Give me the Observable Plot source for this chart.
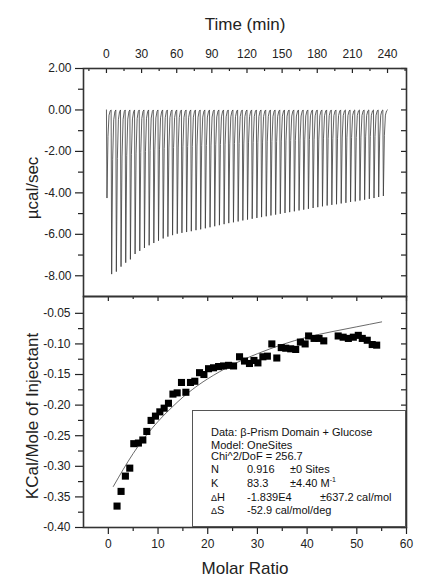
<!DOCTYPE html>
<html><head><meta charset="utf-8">
<script src="https://cdn.jsdelivr.net/npm/d3@7"></script>
<script src="https://cdn.jsdelivr.net/npm/@observablehq/plot@0.6"></script>
<style>
body{margin:0;background:#fff;}
#chart{position:relative;width:422px;height:580px;font-family:"Liberation Sans",Arial,sans-serif;}
#chart svg{position:absolute;left:0;overflow:visible;background:transparent;}
.title{position:absolute;white-space:nowrap;font-size:17px;color:#222;line-height:20px;transform:translate(-50%,-50%);}
.title.rot{transform:translate(-50%,-50%) rotate(-90deg);}
.legend{position:absolute;left:192px;top:410px;width:214px;height:117px;border:1px solid #555;box-sizing:border-box;background:#fff;font-size:11px;color:#111;}
.legend div{position:absolute;white-space:nowrap;line-height:13px;}
.legend sup{font-size:7px;vertical-align:5px;line-height:0;}
.legend .d{font-size:9px;}
</style></head><body><div id="chart"></div>
<script>
// ---- data ----
const injectionTimes = [0,4,8,12,16,20,24,28,32,36,40,44,48,52,56,60,64,68,72,76,80,84,88,92,96,100,104,108,112,116,120,124,128,132,136,140,144,148,152,156,160,164,168,172,176,180,184,188,192,196,200,204,208,212,216,220,224,228,232,236];
const peakHeights = [-4.25,-7.92,-7.80,-7.56,-7.37,-7.21,-6.95,-6.80,-6.66,-6.53,-6.42,-6.31,-6.20,-6.11,-6.04,-5.97,-5.93,-5.89,-5.85,-5.80,-5.76,-5.71,-5.66,-5.61,-5.56,-5.51,-5.46,-5.42,-5.38,-5.33,-5.29,-5.25,-5.21,-5.17,-5.13,-5.09,-5.05,-5.01,-4.97,-4.93,-4.89,-4.85,-4.81,-4.77,-4.73,-4.69,-4.65,-4.61,-4.58,-4.55,-4.51,-4.48,-4.44,-4.41,-4.37,-4.33,-4.29,-4.25,-4.20,-4.15];
const molarRatio = [1.75,2.56,3.43,4.31,5.12,6.05,6.94,7.74,8.6,9.48,10.36,11.23,12.1,13.0,13.85,14.72,15.6,16.53,17.4,18.35,19.23,20.16,21.17,22.18,23.19,24.19,25.2,26.4,27.4,28.4,29.3,30.1,31.1,32.0,32.9,33.9,34.8,35.7,36.7,37.7,38.65,39.6,40.3,41.4,42.4,43.35,46.25,47.25,48.3,49.3,50.3,51.1,52.1,53.1,54.0];
const heatPerInjectant = [-0.365,-0.341,-0.316,-0.303,-0.263,-0.262,-0.257,-0.243,-0.225,-0.218,-0.211,-0.205,-0.197,-0.182,-0.180,-0.163,-0.179,-0.163,-0.161,-0.147,-0.150,-0.1405,-0.139,-0.137,-0.136,-0.135,-0.136,-0.121,-0.128,-0.132,-0.127,-0.131,-0.121,-0.120,-0.100,-0.123,-0.106,-0.107,-0.108,-0.109,-0.097,-0.100,-0.087,-0.091,-0.091,-0.095,-0.087,-0.089,-0.091,-0.089,-0.086,-0.091,-0.094,-0.101,-0.102];
const fitMolarRatio = [1,3,5,7,9,11,13,15,17,20,25,30,35,40,45,50,55];
const fitHeat = [-0.333,-0.305,-0.279,-0.256,-0.236,-0.218,-0.202,-0.187,-0.174,-0.157,-0.134,-0.116,-0.101,-0.089,-0.080,-0.072,-0.064];
const timeTicks = [0,30,60,90,120,150,180,210,240];
const timeMinor = [-15,15,45,75,105,135,165,195,225,255];
const powerTicks = [2,0,-2,-4,-6,-8];
const powerMinor = [1,-1,-3,-5,-7];
const powerRight = [2,1,0,-1,-2,-3,-4,-5,-6,-7,-8];
const ratioTicks = [0,10,20,30,40,50,60];
const ratioMinor = [5,15,25,35,45,55];
const heatTicks = [-0.05,-0.10,-0.15,-0.20,-0.25,-0.30,-0.35,-0.40];
const heatMinor = [-0.075,-0.125,-0.175,-0.225,-0.275,-0.325,-0.375];

// ---- build tables ----
const trace = [];
injectionTimes.forEach((t, i) => {
  const p = peakHeights[i];
  trace.push({t, v: 0}, {t: t + 0.45, v: p}, {t: t + 1.3, v: p * 0.3}, {t: t + 2.2, v: p * 0.06}, {t: t + 3.2, v: p * 0.01});
});
trace.push({t: injectionTimes[injectionTimes.length - 1] + 4, v: 0});
const points = molarRatio.map((x, i) => ({x, y: heatPerInjectant[i]}));
const fit = fitMolarRatio.map((x, i) => ({x, y: fitHeat[i]}));

const W = 422, L = 83, R = 16;
const font = '"Liberation Sans", Arial, sans-serif';
const ink = "#222";
const fmt2 = d => d.toFixed(2);

// top panel
const topH = 300, topMT = 68, topMB = 4, topFH = topH - topMT - topMB, FW = W - L - R;
const topPlot = Plot.plot({
  width: W, height: topH, marginLeft: L, marginRight: R, marginTop: topMT, marginBottom: topMB,
  style: {fontFamily: font, fontSize: "12px", color: ink, overflow: "visible"},
  x: {domain: [-19.6, 256.2], label: null},
  y: {domain: [-9, 2], label: null},
  marks: [
    Plot.line(trace, {x: "t", y: "v", stroke: "#3a3a3a", strokeWidth: 0.8}),
    Plot.tickX(timeTicks, {x: d => d, insetBottom: topFH - 5, stroke: ink, strokeWidth: 1.2}),
    Plot.tickX(timeMinor, {x: d => d, insetBottom: topFH - 3, stroke: ink, strokeWidth: 1.2}),
    Plot.tickY(powerRight, {y: d => d, insetLeft: FW - 5, stroke: ink, strokeWidth: 1.2}),
    Plot.axisX(timeTicks, {anchor: "top", tickSize: 0, tickPadding: 11, tickFormat: d => String(d), label: null}),
    Plot.axisY(powerTicks, {anchor: "left", tickSize: 8, tickPadding: 4, tickFormat: fmt2, label: null, strokeWidth: 1.2}),
    Plot.axisY(powerMinor, {anchor: "left", tickSize: 5, tickFormat: () => "", label: null, strokeWidth: 1.2}),
    Plot.frame({stroke: "#333", strokeWidth: 1.6})
  ]
});
topPlot.style.top = "0px";

// bottom panel
const botH = 290, botMT = 6, botMB = 53, botFH = botH - botMT - botMB;
const botPlot = Plot.plot({
  width: W, height: botH, marginLeft: L, marginRight: R, marginTop: botMT, marginBottom: botMB,
  style: {fontFamily: font, fontSize: "12px", color: ink, overflow: "visible"},
  x: {domain: [-5, 60], label: null},
  y: {domain: [-0.40, -0.0225], label: null},
  marks: [
    Plot.line(fit, {x: "x", y: "y", curve: "natural", stroke: "#444", strokeWidth: 0.8}),
    Plot.dot(points, {x: "x", y: "y", symbol: "square", r: 4, fill: "#000", stroke: null}),
    Plot.tickX(ratioTicks, {x: d => d, insetBottom: botFH - 5, stroke: ink, strokeWidth: 1.2}),
    Plot.tickX(ratioMinor, {x: d => d, insetBottom: botFH - 3, stroke: ink, strokeWidth: 1.2}),
    Plot.tickY(heatTicks.concat(heatMinor), {y: d => d, insetLeft: FW - 5, stroke: ink, strokeWidth: 1.2}),
    Plot.axisX(ratioTicks, {anchor: "bottom", tickSize: 7, tickPadding: 5, tickFormat: d => String(d), label: null, strokeWidth: 1.2}),
    Plot.axisX(ratioMinor, {anchor: "bottom", tickSize: 4, tickFormat: () => "", label: null, strokeWidth: 1.2}),
    Plot.axisY(heatTicks, {anchor: "left", tickSize: 8, tickPadding: 5, tickFormat: fmt2, label: null, strokeWidth: 1.2}),
    Plot.axisY(heatMinor, {anchor: "left", tickSize: 5, tickFormat: () => "", label: null, strokeWidth: 1.2}),
    Plot.frame({stroke: "#333", strokeWidth: 1.6})
  ]
});
botPlot.style.top = "290px";

const chart = document.getElementById("chart");
chart.appendChild(botPlot);
chart.appendChild(topPlot);

// axis titles
[["Time (min)", 245, 25, false], ["µcal/sec", 33, 188, true],
 ["KCal/Mole of Injectant", 33, 416, true], ["Molar Ratio", 245, 569, false]].forEach(([txt, x, y, rot]) => {
  const d = document.createElement("div");
  d.className = "title" + (rot ? " rot" : "");
  d.style.left = x + "px";
  d.style.top = y + "px";
  d.textContent = txt;
  chart.appendChild(d);
});

// fit parameters box
const legend = document.createElement("div");
legend.className = "legend";
const rows = [
  [[0, "Data: β-Prism Domain + Glucose"]],
  [[0, "Model: OneSites"]],
  [[0, "Chi^2/DoF = 256.7"]],
  [[0, "N"], [36, "0.916"], [79, "±0 Sites"]],
  [[0, "K"], [36, "83.3"], [79, "±4.40 M<sup>-1</sup>"]],
  [[0, '<span class="d">Δ</span>H'], [36, "-1.839E4"], [109, "±637.2 cal/mol"]],
  [[0, '<span class="d">Δ</span>S'], [36, "-52.9 cal/mol/deg"]]
];
const rowTops = [15, 27.5, 39, 52, 66, 79.5, 92.5];
rows.forEach((cells, r) => cells.forEach(([x, html]) => {
  const d = document.createElement("div");
  d.style.left = (18 + x) + "px";
  d.style.top = rowTops[r] + "px";
  d.innerHTML = html;
  legend.appendChild(d);
}));
chart.appendChild(legend);
</script></body></html>
